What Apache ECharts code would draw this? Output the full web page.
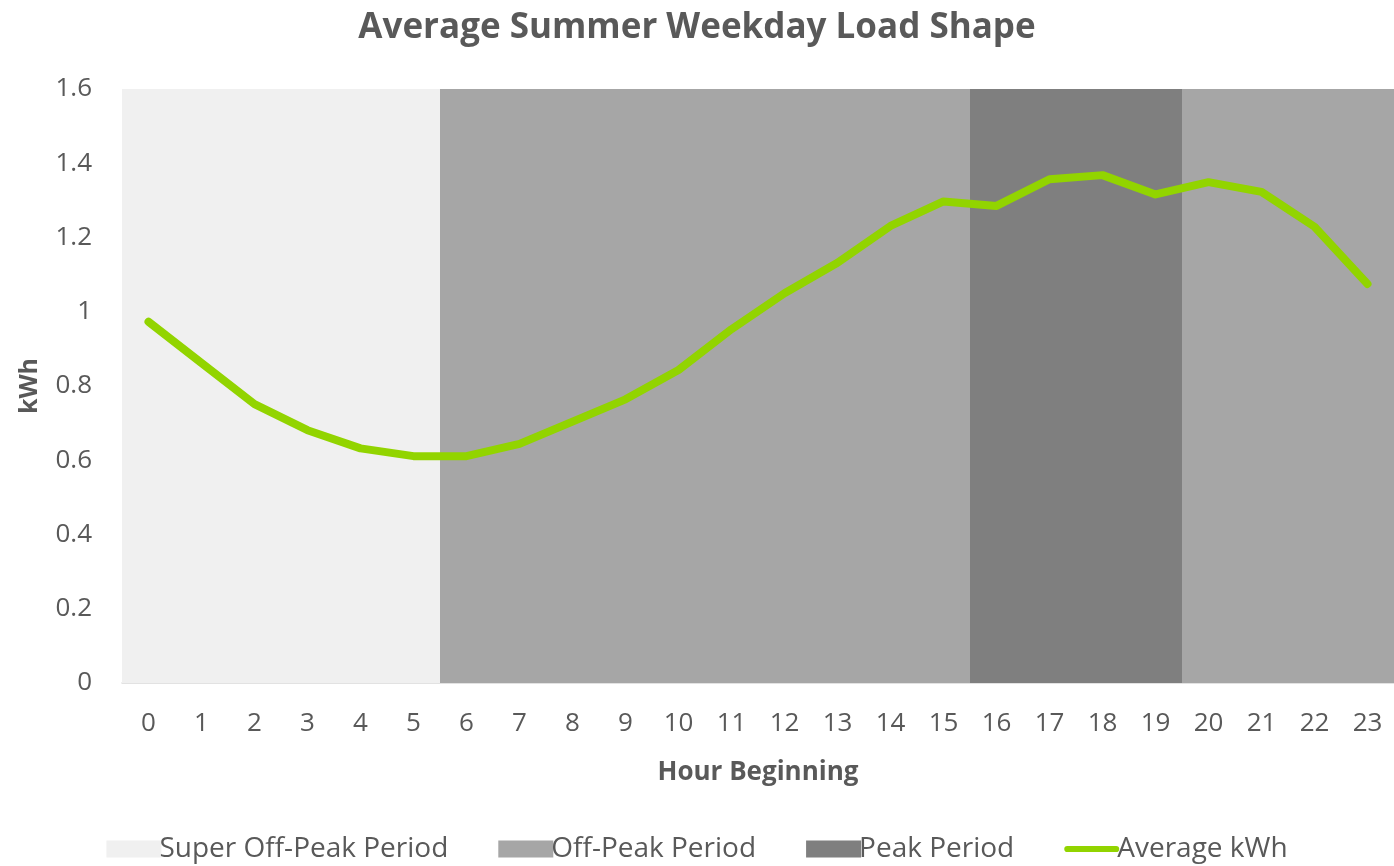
<!DOCTYPE html>
<html><head><meta charset="utf-8">
<script src="https://cdn.jsdelivr.net/npm/echarts@6/dist/echarts.min.js"></script>
<style>html,body{margin:0;padding:0;background:#fff}#c{width:1394px;height:866px}</style>
</head><body><div id="c"></div>
<script>
const hours = ['0','1','2','3','4','5','6','7','8','9','10','11','12','13','14','15','16','17','18','19','20','21','22','23'];
const superOffPeak = [1.6,1.6,1.6,1.6,1.6,1.6,null,null,null,null,null,null,null,null,null,null,null,null,null,null,null,null,null,null];
const offPeak = [null,null,null,null,null,null,1.6,1.6,1.6,1.6,1.6,1.6,1.6,1.6,1.6,1.6,null,null,null,null,1.6,1.6,1.6,1.6];
const peak = [null,null,null,null,null,null,null,null,null,null,null,null,null,null,null,null,1.6,1.6,1.6,1.6,null,null,null,null];
const avgKwh = [0.973,0.862,0.751,0.681,0.632,0.611,0.611,0.644,0.704,0.764,0.843,0.953,1.050,1.132,1.231,1.297,1.285,1.357,1.368,1.316,1.349,1.323,1.229,1.075];

const font = 'Open Sans';
const chart = echarts.init(document.getElementById('c'));
chart.setOption({
  animation: false,
  textStyle: {fontFamily: font},
  title: {text: 'Average Summer Weekday Load Shape', left: 'center', top: 6,
    textStyle: {fontFamily: font, fontSize: 35, fontWeight: 'bold', color: '#595959'}},
  grid: {left: 122, right: 0, top: 89, bottom: 183},
  legend: {bottom: -2, left: 'center', itemWidth: 55, itemHeight: 17, itemGap: 50,
    textStyle: {fontFamily: font, fontSize: 28, color: '#595959', padding: [0,0,0,-7]},
    data: [
      {name: 'Super Off-Peak Period', icon: 'rect'},
      {name: 'Off-Peak Period', icon: 'rect'},
      {name: 'Peak Period', icon: 'rect'},
      {name: 'Average kWh', icon: 'path://M4,0 H67 A4,4 0 0 1 67,8 H4 A4,4 0 0 1 4,0 Z', itemStyle: {color: '#92d400'}}
    ]},
  xAxis: {type: 'category', data: hours, boundaryGap: true,
    name: 'Hour Beginning', nameLocation: 'middle', nameGap: 77,
    nameTextStyle: {fontFamily: font, fontSize: 26, fontWeight: 'bold', color: '#595959'},
    axisLine: {lineStyle: {color: '#d9d9d9', width: 1.5}},
    axisTick: {show: false},
    axisLabel: {fontFamily: font, fontSize: 26, color: '#595959', margin: 28}},
  yAxis: {type: 'value', min: 0, max: 1.6, interval: 0.2,
    name: 'kWh', nameLocation: 'middle', nameGap: 80,
    nameTextStyle: {fontFamily: font, fontSize: 25, fontWeight: 'bold', color: '#595959'},
    axisLine: {show: false}, axisTick: {show: false}, splitLine: {show: false},
    axisLabel: {fontFamily: font, fontSize: 26, color: '#595959', margin: 30,
      formatter: v => String(Math.round(v * 10) / 10)}},
  series: [
    {name: 'Super Off-Peak Period', type: 'bar', stack: 'bg', data: superOffPeak, barCategoryGap: '0%',
      itemStyle: {color: '#f0f0f0'}, z: 1},
    {name: 'Off-Peak Period', type: 'bar', stack: 'bg', data: offPeak,
      itemStyle: {color: '#a6a6a6'}, z: 1},
    {name: 'Peak Period', type: 'bar', stack: 'bg', data: peak,
      itemStyle: {color: '#7f7f7f'}, z: 1},
    {name: 'Average kWh', type: 'line', data: avgKwh, symbol: 'none', z: 5,
      lineStyle: {color: '#92d400', width: 8, cap: 'round', join: 'round'},
      itemStyle: {color: '#92d400'}}
  ]
});
</script></body></html>
